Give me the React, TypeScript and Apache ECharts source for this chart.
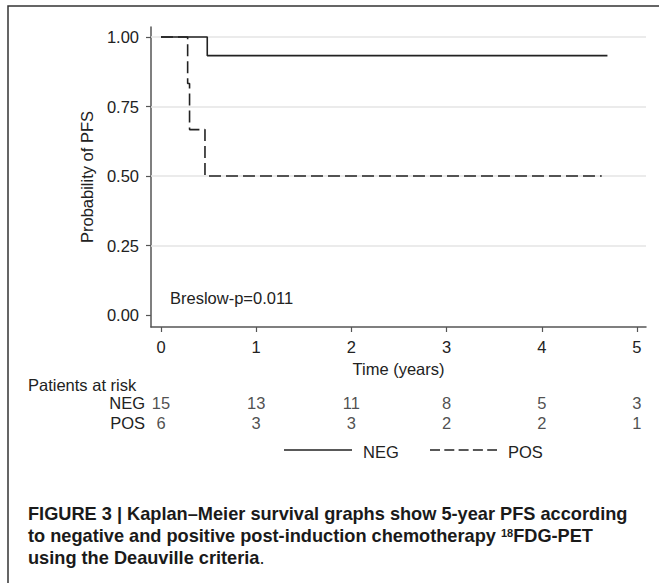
import React, { useEffect, useRef } from "react";
import * as echarts from "echarts";

// Kaplan–Meier step data (time in years, survival probability)
const negTimes = [0, 0.486, 4.69];
const negSurv = [1, 0.933, 0.933];
const posTimes = [0, 0.28, 0.3, 0.462, 4.63];
const posSurv = [1, 0.833, 0.667, 0.5, 0.5];

const xTicks = [0, 1, 2, 3, 4, 5];
const yTicks = [0, 0.25, 0.5, 0.75, 1];
const gridValues = [0.25, 0.5, 0.75, 1];

// Patients at risk
const riskGroups = ["NEG", "POS"];
const riskTimes = [0, 1, 2, 3, 4, 5];
const riskNEG = [15, 13, 11, 8, 5, 3];
const riskPOS = [6, 3, 3, 2, 2, 1];

const FONT = "'Liberation Sans', Arial, sans-serif";
const INK = "#222";
const CAP = "#1a1a1a";

export default function App() {
  const ref = useRef<HTMLDivElement>(null);
  useEffect(() => {
    if (!ref.current) return;
    const chart = echarts.init(ref.current, undefined, { renderer: "svg" });
    const fs = 16.5;
    const capFont = { fontSize: 18.2, fontWeight: "bold", fill: CAP, fontFamily: FONT };
    const option: any = {
      animation: false,
      backgroundColor: "#fff",
      textStyle: { fontFamily: FONT, color: INK },
      grid: [
        { left: 151, right: 13, top: 27, height: 300, containLabel: false },
        { left: 151, right: 13, top: 393, height: 40, containLabel: false },
      ],
      xAxis: [
        {
          type: "value",
          gridIndex: 0,
          min: -0.105,
          max: 5.095,
          name: "Time (years)",
          nameLocation: "middle",
          nameGap: 33,
          nameTextStyle: { fontSize: fs, color: INK, fontFamily: FONT },
          axisLine: { show: true, onZero: false, lineStyle: { color: "#555", width: 1.5 } },
          axisTick: { show: true, length: 5, customValues: xTicks, lineStyle: { color: "#555", width: 1.2 } },
          axisLabel: { customValues: xTicks, margin: 11, fontSize: fs, color: INK, formatter: (v: number) => String(v) },
          splitLine: { show: false },
        },
        {
          type: "value",
          gridIndex: 1,
          min: -0.105,
          max: 5.095,
          show: false,
        },
      ],
      yAxis: [
        {
          type: "value",
          gridIndex: 0,
          min: -0.043,
          max: 1.036,
          name: "Probability of PFS",
          nameLocation: "middle",
          nameGap: 51,
          nameTextStyle: { fontSize: fs, color: INK, fontFamily: FONT },
          axisLine: { show: true, onZero: false, lineStyle: { color: "#555", width: 1.5 } },
          axisTick: { show: true, length: 5, customValues: yTicks, lineStyle: { color: "#555", width: 1.2 } },
          axisLabel: { customValues: yTicks, margin: 12, fontSize: fs, color: INK, formatter: (v: number) => v.toFixed(2) },
          splitLine: { show: false },
        },
        {
          type: "category",
          gridIndex: 1,
          data: riskGroups,
          inverse: true,
          axisLine: { show: false },
          axisTick: { show: false },
          axisLabel: { interval: 0, margin: 6, fontSize: fs, color: INK, hideOverlap: false },
        },
      ],
      series: [
        {
          name: "grid",
          type: "line",
          xAxisIndex: 0,
          yAxisIndex: 0,
          data: [],
          silent: true,
          z: 1,
          markLine: {
            silent: true,
            z: 1,
            symbol: "none",
            label: { show: false },
            lineStyle: { color: "#e4e4e4", width: 1.5, type: "solid" },
            data: gridValues.map((v) => ({ yAxis: v })),
          },
        },
        {
          name: "NEG",
          type: "line",
          step: "end",
          xAxisIndex: 0,
          yAxisIndex: 0,
          showSymbol: false,
          symbol: "none",
          z: 3,
          lineStyle: { color: INK, width: 1.6, type: "solid" },
          itemStyle: { color: INK },
          data: negTimes.map((t, i) => [t, negSurv[i]]),
        },
        {
          name: "POS",
          type: "line",
          step: "end",
          xAxisIndex: 0,
          yAxisIndex: 0,
          showSymbol: false,
          symbol: "none",
          z: 3,
          lineStyle: { color: INK, width: 1.6, type: [12, 5] },
          itemStyle: { color: INK },
          data: posTimes.map((t, i) => [t, posSurv[i]]),
        },
        {
          name: "riskNEG",
          type: "scatter",
          xAxisIndex: 1,
          yAxisIndex: 1,
          symbolSize: 0,
          silent: true,
          label: { show: true, position: "inside", fontSize: fs, color: INK, formatter: (p: any) => String(p.value[2]) },
          data: riskTimes.map((t, i) => [t, "NEG", riskNEG[i]]),
        },
        {
          name: "riskPOS",
          type: "scatter",
          xAxisIndex: 1,
          yAxisIndex: 1,
          symbolSize: 0,
          silent: true,
          label: { show: true, position: "inside", fontSize: fs, color: INK, formatter: (p: any) => String(p.value[2]) },
          data: riskTimes.map((t, i) => [t, "POS", riskPOS[i]]),
        },
      ],
      graphic: [
        {
          type: "rect",
          silent: true,
          shape: { x: 8, y: 6, width: 800, height: 800 },
          style: { fill: "none", stroke: "#333", lineWidth: 1.5 },
        },
        {
          type: "text",
          left: 170,
          top: 289,
          style: { text: "Breslow-p=0.011", fontSize: fs, fill: INK, fontFamily: FONT },
        },
        {
          type: "text",
          left: 28,
          top: 376,
          style: { text: "Patients at risk", fontSize: fs, fill: INK, fontFamily: FONT },
        },
        // legend
        {
          type: "line",
          silent: true,
          shape: { x1: 284, y1: 450, x2: 352, y2: 450 },
          style: { stroke: INK, lineWidth: 1.4 },
        },
        {
          type: "text",
          left: 363,
          top: 443,
          style: { text: "NEG", fontSize: fs, fill: INK, fontFamily: FONT },
        },
        {
          type: "line",
          silent: true,
          shape: { x1: 430, y1: 450, x2: 497, y2: 450 },
          style: { stroke: INK, lineWidth: 1.4, lineDash: [10, 4.3] },
        },
        {
          type: "text",
          left: 508,
          top: 443,
          style: { text: "POS", fontSize: fs, fill: INK, fontFamily: FONT },
        },
        // caption
        {
          type: "text",
          left: 28,
          top: 505,
          style: { text: "FIGURE 3 | Kaplan–Meier survival graphs show 5-year PFS according", ...capFont },
        },
        {
          type: "text",
          left: 28,
          top: 527,
          style: {
            text: "{b|to negative and positive post-induction chemotherapy }{s|18}{b|FDG-PET}",
            rich: {
              b: { ...capFont },
              s: { ...capFont, fontSize: 11, verticalAlign: "top" },
            },
          },
        },
        {
          type: "text",
          left: 28,
          top: 549,
          style: {
            text: "{b|using the Deauville criteria}{n|.}",
            rich: {
              b: { ...capFont },
              n: { ...capFont, fontWeight: "normal" },
            },
          },
        },
      ],
    };
    chart.setOption(option);
    return () => chart.dispose();
  }, []);
  return (
    <div
      ref={ref}
      style={{ position: "fixed", left: 0, top: 0, width: 659, height: 583, background: "#fff" }}
    />
  );
}
